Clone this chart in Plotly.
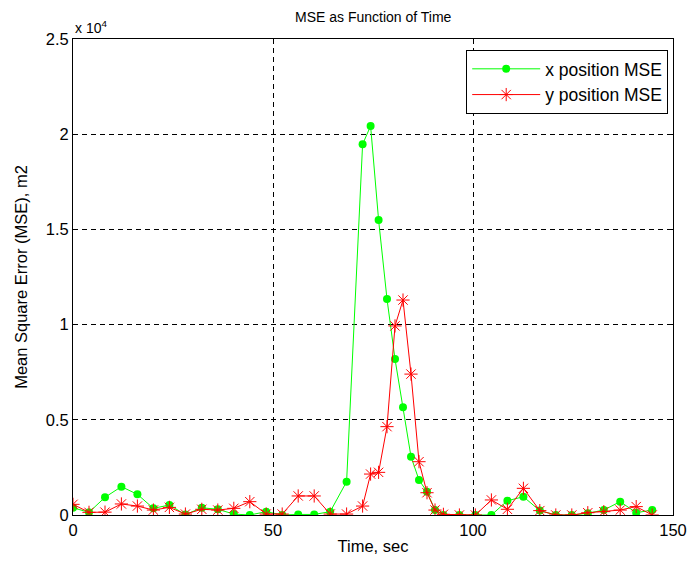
import plotly.graph_objects as go

# Sample times (s)
time_s = [0, 4.0, 8.0, 12.1, 16.1, 20.1, 24.1, 28.1, 32.2, 36.2, 40.2, 44.2,
          48.3, 52.3, 56.3, 60.3, 64.3, 68.4,
          72.4, 74.4, 76.4, 78.5, 80.5, 82.5, 84.5, 86.5, 88.5, 90.5, 92.6,
          96.6, 100.6, 104.6, 108.6, 112.6, 116.7, 120.7, 124.7, 128.7,
          132.7, 136.8, 140.8, 144.8]

# Mean square error of the x position (m^2)
mse_x = [380, 140, 930, 1490, 1085, 350, 525, 20, 380, 300, 50, 0,
         175, 0, 30, 30, 175, 1750,
         19470, 20430, 15490, 11340, 8190, 5660, 3060, 1840, 1220, 260, 0,
         0, 0, 0, 750, 960, 230, 0, 0, 90,
         260, 700, 120, 260]

# Mean square error of the y position (m^2)
mse_y = [560, 140, 150, 580, 470, 260, 400, 50, 300, 260, 350, 700,
         50, 50, 1000, 1000, 50, 50,
         470, 2150, 2240, 4640, 9930, 11290, 7400, 2800, 1170, 260, 35,
         0, 0, 790, 300, 1400, 230, 0, 0, 120,
         175, 260, 440, 0]

x_ticks = [0, 50, 100, 150]
y_ticks = [0, 5000, 10000, 15000, 20000, 25000]
y_tick_text = ["0", "0.5", "1", "1.5", "2", "2.5"]

FONT = "Liberation Sans, Arial, sans-serif"
TICK_FS = 16.5
LABEL_FS = 16.5
LEGEND_FS = 17.5
SMALL_FS = 14

fig = go.Figure()
fig.add_trace(go.Scatter(
    x=time_s, y=mse_x, mode="lines+markers", name="x position MSE",
    legendgroup="gx",
    line=dict(color="#00ff00", width=1),
    marker=dict(symbol="circle", size=8, color="#00ff00",
                line=dict(width=0)),
))
fig.add_trace(go.Scatter(
    x=time_s, y=mse_y, mode="lines+markers", name="y position MSE",
    legendgroup="gy",
    line=dict(color="#ff0000", width=1),
    marker=dict(symbol="asterisk-open", size=11, color="#ff0000",
                line=dict(width=1, color="#ff0000")),
))

axis_common = dict(
    showline=True, linecolor="black", linewidth=1, mirror="ticks",
    ticks="inside", ticklen=5, tickcolor="black",
    showgrid=True, gridcolor="black", gridwidth=1, griddash="5px,4px",
    zeroline=False, automargin=False,
    tickfont=dict(family=FONT, size=TICK_FS, color="black"),
)

fig.update_xaxes(
    range=[0, 150], tickvals=x_ticks, ticktext=[str(v) for v in x_ticks],
    title=dict(text="Time, sec",
               font=dict(family=FONT, size=LABEL_FS, color="black"),
               standoff=2),
    **axis_common,
)
fig.update_yaxes(
    range=[0, 25000], tickvals=y_ticks, ticktext=y_tick_text,
    title=dict(text="Mean Square Error (MSE), m2",
               font=dict(family=FONT, size=LABEL_FS, color="black"),
               standoff=13),
    **axis_common,
)

fig.add_annotation(
    xref="paper", yref="paper", x=0, y=1, xanchor="left", yanchor="bottom",
    yshift=1, text="x 10<sup>4</sup>", showarrow=False,
    font=dict(family=FONT, size=SMALL_FS, color="black"),
)

fig.update_layout(
    width=695, height=566,
    margin=dict(l=73, r=22, t=39, b=51),
    paper_bgcolor="white", plot_bgcolor="white",
    title=dict(text="MSE as Function of Time", x=0.537, xanchor="center",
               y=0.97, yanchor="middle",
               font=dict(family=FONT, size=SMALL_FS, color="black")),
    showlegend=True,
    legend=dict(
        x=0.992, y=0.977, xanchor="right", yanchor="top",
        bgcolor="white", bordercolor="black", borderwidth=1,
        font=dict(family=FONT, size=LEGEND_FS, color="black"),
        tracegroupgap=0, itemwidth=68,
    ),
)

fig.write_html("out.html")
